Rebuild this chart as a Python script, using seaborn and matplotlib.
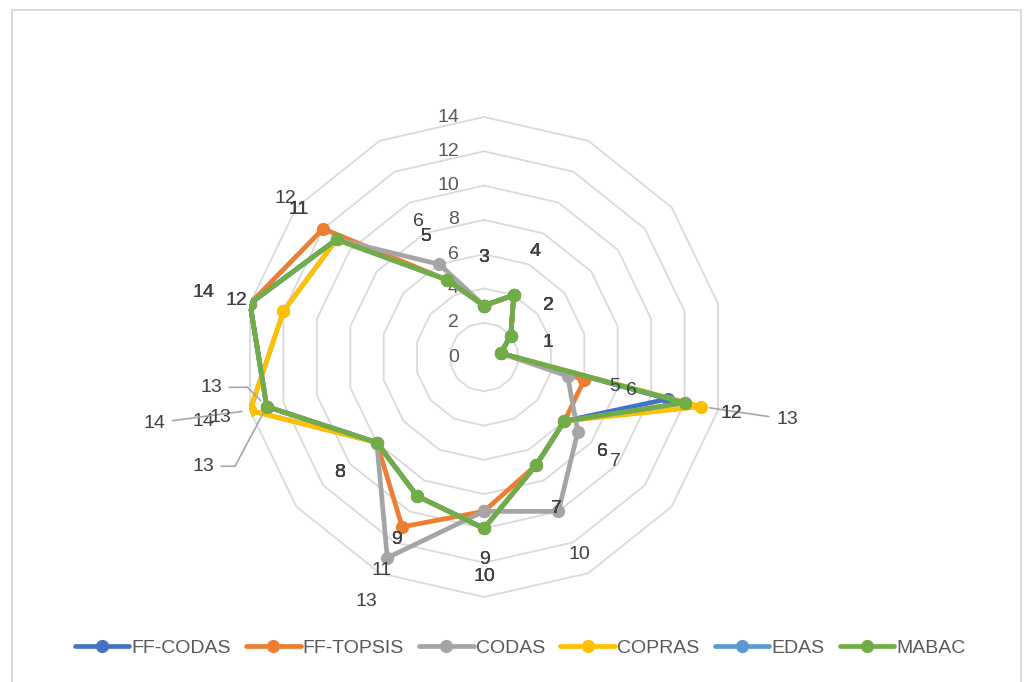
import numpy as np
import matplotlib
matplotlib.use("Agg")
import matplotlib.pyplot as plt
from matplotlib.patches import Rectangle
import seaborn as sns

# ---- data ----
series_names = ["FF-CODAS", "FF-TOPSIS", "CODAS", "COPRAS", "EDAS", "MABAC"]
ff_codas  = [3, 4, 2, 1, 11, 6, 7, 10, 9, 8, 13, 14, 11, 5]
ff_topsis = [3, 4, 2, 1, 6, 6, 7, 9, 11, 8, 13, 14, 12, 5]
codas     = [3, 4, 2, 1, 5, 7, 10, 9, 13, 8, 14, 12, 11, 6]
copras    = [3, 4, 2, 1, 13, 6, 7, 10, 9, 8, 14, 12, 11, 5]
edas      = [3, 4, 2, 1, 12, 6, 7, 10, 9, 8, 13, 14, 11, 5]
mabac     = [3, 4, 2, 1, 12, 6, 7, 10, 9, 8, 13, 14, 11, 5]
all_values = [ff_codas, ff_topsis, codas, copras, edas, mabac]
radial_ticks = [0, 2, 4, 6, 8, 10, 12, 14]
labelled_series = ["FF-TOPSIS", "CODAS", "COPRAS", "EDAS", "MABAC"]

colors = ["#4472C4", "#ED7D31", "#A5A5A5", "#FFC000", "#5B9BD5", "#70AD47"]
# labels moved away by hand (series, spoke) -> extra pixel offset (dx, dy up), leader style
moved_labels = {("COPRAS", 4): ((39, -2), "arc3"),
                ("FF-TOPSIS", 10): ((-9, 30), "angle,angleA=0,angleB=-45,rad=0"),
                ("COPRAS", 10): ((-49, -2), "arc3"),
                ("EDAS", 10): ((-17, -49), "angle,angleA=0,angleB=62,rad=0")}

sns.set_theme(style="white")
plt.rcParams["font.family"] = ["Liberation Sans", "DejaVu Sans"]

W, H = 1024, 682
fig = plt.figure(figsize=(W / 100, H / 100), dpi=100)
cx, cy, R = 484, 357, 240
ax = fig.add_axes([(cx - R) / W, (H - cy - R) / H, 2 * R / W, 2 * R / H], projection="polar")
ax.set_theta_zero_location("N")
ax.set_theta_direction(-1)
ax.set_ylim(0, 14)
ax.grid(False)
ax.set_xticks([])
ax.set_yticks([])
ax.spines["polar"].set_visible(False)
ax.patch.set_alpha(0)

n = len(mabac)
theta = np.arange(n) * 2 * np.pi / n
theta_closed = np.append(theta, 2 * np.pi)

# polygon rings
for r in radial_ticks[1:]:
    ax.plot(theta_closed, [r] * (n + 1), color="#d9d9d9", lw=1.3, zorder=0, clip_on=False)
for r in radial_ticks:
    ax.annotate(str(r), xy=(0, r), xytext=(-25, 0), textcoords="offset pixels",
                ha="right", va="center", fontsize=14, color="#595959",
                annotation_clip=False)

for name, vals, col in zip(series_names, all_values, colors):
    vc = np.append(vals, vals[0])
    sns.lineplot(x=theta_closed, y=vc, ax=ax, sort=False, estimator=None,
                 color=col, linewidth=3.4, marker="o", markersize=9.5,
                 markeredgewidth=0, markeredgecolor=col, label=name, zorder=3)

# data labels
off = 48
for name, vals in zip(series_names, all_values):
    if name not in labelled_series:
        continue
    for k, v in enumerate(vals):
        t = theta[k]
        dx = off * np.sin(t)
        dy = off * np.cos(t)
        moved = moved_labels.get((name, k))
        if moved is None:
            ax.annotate(str(v), xy=(t, v), xytext=(dx, dy), textcoords="offset pixels",
                        ha="center", va="center", fontsize=14, color="#404040",
                        annotation_clip=False, zorder=5)
        else:
            (ex, ey), cs = moved
            ax.annotate(str(v), xy=(t, v), xytext=(dx + ex, dy + ey),
                        textcoords="offset pixels", ha="center", va="center",
                        fontsize=14, color="#404040", annotation_clip=False, zorder=5,
                        arrowprops=dict(arrowstyle="-", color="#a6a6a6", lw=1.2,
                                        shrinkA=3, shrinkB=6, connectionstyle=cs))

handles, labels = ax.get_legend_handles_labels()
ax.get_legend().remove()
leg = fig.legend(handles, labels, ncol=6, loc="center",
                 bbox_to_anchor=(520 / W, 1 - 648 / H), frameon=False,
                 handlelength=2.8, handletextpad=0.1, columnspacing=0.8,
                 prop={"size": 14})
for t in leg.get_texts():
    t.set_color("#595959")

fig.patches.append(Rectangle((12 / W, -0.02), 1009 / W, (H - 10) / H + 0.02,
                             transform=fig.transFigure, fill=False,
                             edgecolor="#d9d9d9", lw=1.5))

fig.savefig("out.png", dpi=100, facecolor="white")
